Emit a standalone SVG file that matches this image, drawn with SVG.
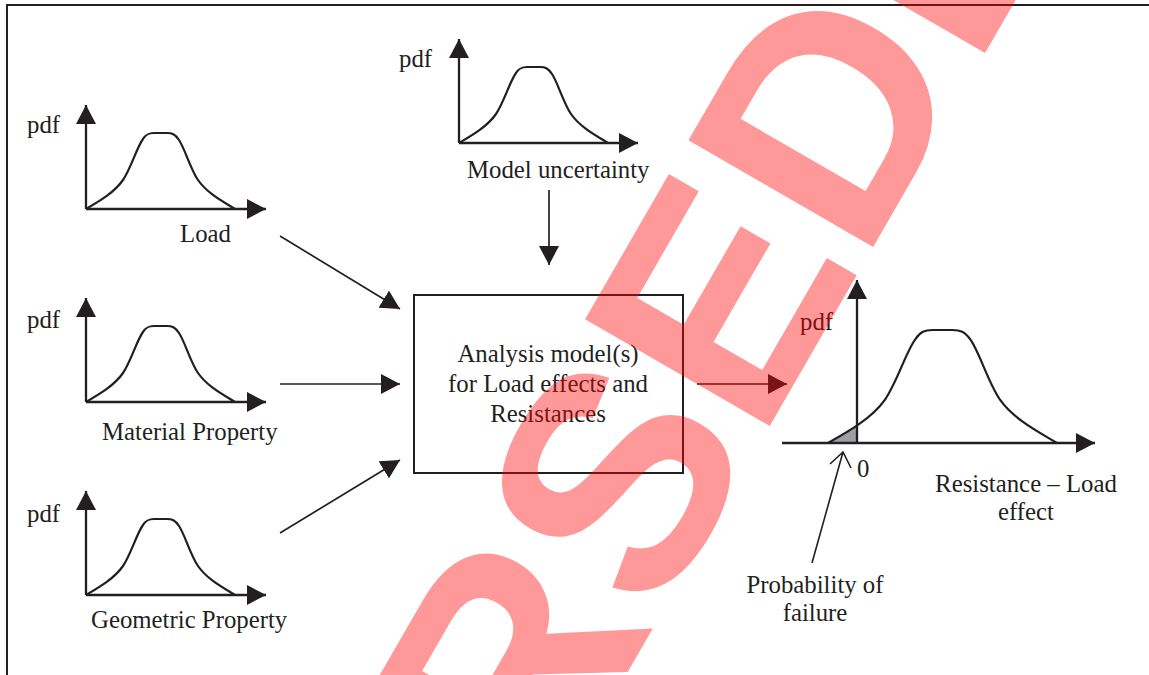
<svg xmlns="http://www.w3.org/2000/svg" xmlns:xlink="http://www.w3.org/1999/xlink" width="1149" height="675" viewBox="0 0 1149 675">
<style>
  .t { font-family: "Liberation Serif", "Times New Roman", serif; font-size: 24.8px; fill: #231f20; }
  .mid { text-anchor: middle; }
  .ax { stroke: #231f20; stroke-width: 2.3; fill: none; marker-end: url(#ah); }
  .cn { stroke: #231f20; stroke-width: 1.7; fill: none; marker-end: url(#ah); }
  .bell { stroke: #231f20; stroke-width: 2.2; fill: none; }
  .wm { font-family: "Liberation Sans", Arial, sans-serif; font-weight: bold; font-size: 310px; fill: #ff0000; fill-opacity: 0.4; }
</style>
<defs>
  <marker id="ah" viewBox="0 0 19 20" refX="19" refY="10" markerWidth="19" markerHeight="20" markerUnits="userSpaceOnUse" orient="auto">
    <path d="M0,0 L19,10 L0,20 Z" fill="#231f20"/>
  </marker>
  <path id="bellp" vector-effect="non-scaling-stroke" d="M0,0 C12,-7 28,-16 37,-29 C45,-41 51,-62 57,-70 C60,-75 63,-76 68,-76 L81,-76 C86,-76 89,-75 93,-69 C99,-60 104,-41 112,-29 C121,-16 136,-8 149,0"/>
  <clipPath id="pfclip"><rect x="815" y="380" width="42" height="63"/></clipPath>
</defs>
<rect x="0" y="0" width="1149" height="675" fill="#ffffff"/>
<path d="M7,680 L7,5 L1155,5" stroke="#231f20" stroke-width="2" fill="none"/>

<g id="load">
  <g transform="translate(86,209)">
    <use xlink:href="#bellp" class="bell"/>
    <line x1="0" y1="0" x2="0" y2="-104" class="ax"/>
    <line x1="0" y1="0" x2="180" y2="0" class="ax"/>
  </g>
  <text x="27" y="133" class="t">pdf</text>
  <text x="180" y="242" class="t">Load</text>
</g>

<g id="material">
  <g transform="translate(86,402)">
    <use xlink:href="#bellp" class="bell"/>
    <line x1="0" y1="0" x2="0" y2="-104" class="ax"/>
    <line x1="0" y1="0" x2="180" y2="0" class="ax"/>
  </g>
  <text x="27" y="328" class="t">pdf</text>
  <text x="102" y="440" class="t">Material Property</text>
</g>

<g id="geometric">
  <g transform="translate(86,595)">
    <use xlink:href="#bellp" class="bell"/>
    <line x1="0" y1="0" x2="0" y2="-104" class="ax"/>
    <line x1="0" y1="0" x2="180" y2="0" class="ax"/>
  </g>
  <text x="27" y="522" class="t">pdf</text>
  <text x="91" y="628" class="t">Geometric Property</text>
</g>

<g id="model">
  <g transform="translate(459,143)">
    <use xlink:href="#bellp" class="bell"/>
    <line x1="0" y1="0" x2="0" y2="-104" class="ax"/>
    <line x1="0" y1="0" x2="179" y2="0" class="ax"/>
  </g>
  <text x="399" y="67" class="t">pdf</text>
  <text x="467" y="178" class="t">Model uncertainty</text>
</g>

<g id="analysis">
  <rect x="414" y="295" width="269" height="178" fill="none" stroke="#231f20" stroke-width="2"/>
  <text x="548" y="362" class="t mid">Analysis model(s)</text>
  <text x="548" y="392" class="t mid">for Load effects and</text>
  <text x="548" y="422" class="t mid">Resistances</text>
</g>

<g id="result">
  <g clip-path="url(#pfclip)">
    <use xlink:href="#bellp" transform="translate(828,443) scale(1.537,1.487)" fill="#9d9fa2" stroke="none"/>
  </g>
  <use xlink:href="#bellp" transform="translate(828,443) scale(1.537,1.487)" class="bell"/>
  <line x1="857" y1="443" x2="857" y2="280" class="ax"/>
  <line x1="782" y1="443" x2="1095" y2="443" class="ax"/>
  <text x="800" y="330" class="t">pdf</text>
  <text x="857" y="477" class="t">0</text>
  <text x="1026" y="492" class="t mid">Resistance – Load</text>
  <text x="1026" y="520" class="t mid">effect</text>
</g>

<g id="pfail">
  <path d="M812,563 L843,452 M830,464 L843,452 L851,468" stroke="#231f20" stroke-width="1.6" fill="none"/>
  <text x="815" y="593" class="t mid">Probability of</text>
  <text x="815" y="621" class="t mid">failure</text>
</g>

<g id="connectors">
  <line x1="280" y1="236" x2="400" y2="309" class="cn"/>
  <line x1="280" y1="384" x2="400" y2="384" class="cn"/>
  <line x1="280" y1="533" x2="400" y2="460" class="cn"/>
  <line x1="549" y1="190" x2="549" y2="265" class="cn"/>
  <line x1="697" y1="384" x2="787" y2="384" class="cn"/>
</g>

<g id="watermark">
  <text transform="translate(656,623) rotate(-60)" text-anchor="middle" class="wm">SUPERSEDED</text>
</g>
</svg>
